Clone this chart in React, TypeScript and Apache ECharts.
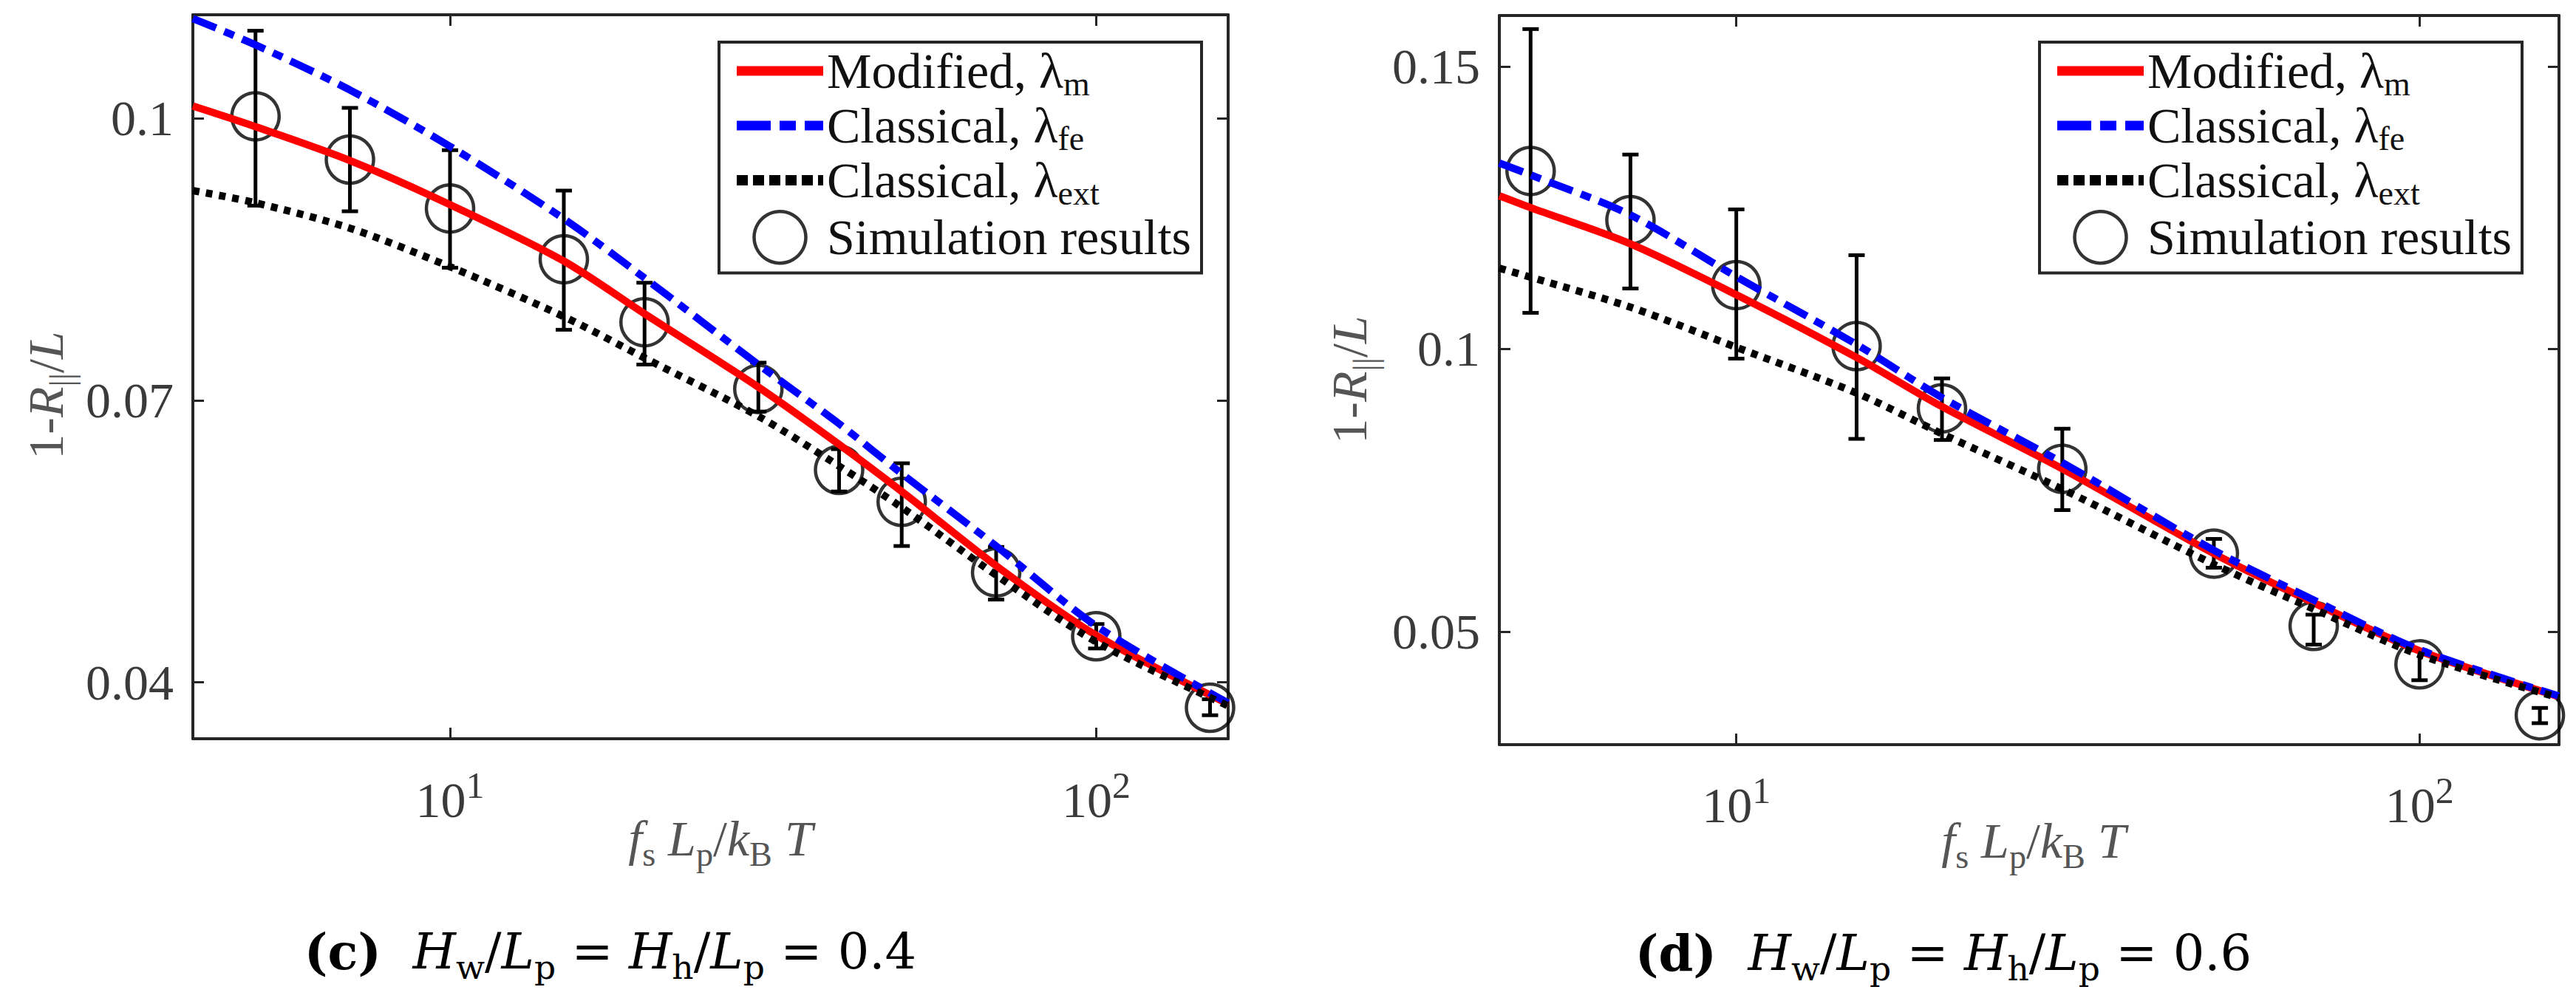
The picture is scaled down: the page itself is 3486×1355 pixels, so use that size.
import React, { useEffect, useRef } from "react";
import * as echarts from "echarts";

// ---------------- data ----------------
const xTickExponents = [1, 2];

// panel (c)
const cCurveX = [4, 5, 7, 10, 15, 20, 30, 40, 50, 70, 100, 160];
const cModified = [0.1013, 0.0991, 0.0955, 0.0908, 0.0848, 0.0792, 0.0714, 0.0653, 0.0603, 0.0524, 0.045, 0.0377];
const cFe = [0.1106, 0.1078, 0.103, 0.097, 0.0893, 0.083, 0.0738, 0.0675, 0.0622, 0.0545, 0.046, 0.0378];
const cExt = [0.0923, 0.091, 0.0883, 0.0842, 0.0789, 0.0745, 0.0683, 0.063, 0.0586, 0.0514, 0.0443, 0.0375];
const cSimX = [5, 7, 10, 15, 20, 30, 40, 50, 70, 100, 150];
const cSimY = [0.1002, 0.0956, 0.0904, 0.085, 0.0783, 0.0712, 0.0626, 0.0592, 0.0517, 0.0449, 0.0373];
const cSimLow = [0.0907, 0.0901, 0.0841, 0.0775, 0.0738, 0.0688, 0.0603, 0.0545, 0.0488, 0.0436, 0.0365];
const cSimHigh = [0.1093, 0.1011, 0.0966, 0.0923, 0.0825, 0.074, 0.0648, 0.0633, 0.0544, 0.0462, 0.0382];
const cYTicks = [0.04, 0.07, 0.1];

// panel (d)
const dCurveX = [4.5, 5, 7, 10, 15, 20, 30, 50, 70, 100, 160];
const dModified = [0.1271, 0.125, 0.1186, 0.1096, 0.0985, 0.0898, 0.0788, 0.0638, 0.0551, 0.0466, 0.0385];
const dFe = [0.1329, 0.1308, 0.1237, 0.1128, 0.1008, 0.0914, 0.0799, 0.0644, 0.0556, 0.0468, 0.0386];
const dExt = [0.1143, 0.1127, 0.1074, 0.1003, 0.0922, 0.085, 0.0752, 0.0619, 0.054, 0.0459, 0.0383];
const dSimX = [5, 7, 10, 15, 20, 30, 50, 70, 100, 150];
const dSimY = [0.1315, 0.1228, 0.1113, 0.1005, 0.0895, 0.0788, 0.0638, 0.051, 0.0442, 0.0352];
const dSimLow = [0.1064, 0.1107, 0.0983, 0.0841, 0.0839, 0.0715, 0.0613, 0.0477, 0.0414, 0.0338];
const dSimHigh = [0.1566, 0.1344, 0.1247, 0.1166, 0.0948, 0.0859, 0.0664, 0.053, 0.0467, 0.0365];
const dYTicks = [0.05, 0.1, 0.15];

const seriesNames = ["Modified", "Classical fe", "Classical ext", "Simulation results"];
const legendLabels: Record<string, string> = {
  Modified: "{t|Modified, λ}{s|m}",
  "Classical fe": "{t|Classical, λ}{s|fe}",
  "Classical ext": "{t|Classical, λ}{s|ext}",
  "Simulation results": "{t|Simulation results}",
};
const captions = [
  { tag: "(c)", value: "0.4" },
  { tag: "(d)", value: "0.6" },
];

// ---------------- styles ----------------
const SERIF = "Liberation Serif";
const CAPFONT = "DejaVu Serif";
const AX = "#262626";
const TXT = "#3a3a3a";
const LBL = "#555555";
const RED = "#ff0000";
const BLUE = "#0000ff";
const BLACK = "#000000";
const LINE_W = 10;
const FE_DASH = [34, 12, 14, 12];
const EXT_DASH = [9, 9];

const pairs = (xs: number[], ys: number[]) => xs.map((x, i) => [x, ys[i]]);
const triples = (xs: number[], lo: number[], hi: number[]) => xs.map((x, i) => [x, lo[i], hi[i]]);

const tickRich = {
  b: { fontFamily: SERIF, fontSize: 68, color: TXT, lineHeight: 90 },
  s: { fontFamily: SERIF, fontSize: 50, color: TXT, lineHeight: 24, verticalAlign: "top" },
};

const xFormatter = (v: number) => {
  const l = Math.log10(v);
  const e = Math.round(l);
  if (Math.abs(l - e) > 1e-6 || xTickExponents.indexOf(e) < 0) return "";
  return `{b|10}{s|${e}}`;
};

function makeAxes(gi: number, xmin: number, xmax: number, ymin: number, ymax: number, yTicks: number[], labelMargin: number) {
  const line = { show: true, onZero: false, lineStyle: { color: AX, width: 4 } };
  const tick = { show: true, inside: true, length: 15, lineStyle: { color: AX, width: 3 } };
  const xs = [
    {
      type: "log", logBase: 10, gridIndex: gi, min: xmin, max: xmax, position: "bottom",
      axisLine: line, axisTick: tick, splitLine: { show: false }, minorTick: { show: false },
      axisLabel: { show: true, margin: labelMargin, formatter: xFormatter, rich: tickRich, showMinLabel: false, showMaxLabel: false },
    },
    {
      type: "log", logBase: 10, gridIndex: gi, min: xmin, max: xmax, position: "top",
      axisLine: line, axisTick: tick, splitLine: { show: false }, axisLabel: { show: false },
    },
  ];
  const ys = [
    {
      type: "value", gridIndex: gi, min: ymin, max: ymax, position: "left",
      axisLine: line, axisTick: { ...tick, customValues: yTicks }, splitLine: { show: false },
      axisLabel: { show: true, customValues: yTicks, margin: 26, fontFamily: SERIF, fontSize: 68, color: TXT, formatter: (v: number) => String(+v.toFixed(4)) },
    },
    {
      type: "value", gridIndex: gi, min: ymin, max: ymax, position: "right",
      axisLine: line, axisTick: { ...tick, customValues: yTicks }, splitLine: { show: false }, axisLabel: { show: false },
    },
  ];
  return { xs, ys };
}

function errorBarItem(params: any, api: any) {
  const x = api.value(0);
  const p1 = api.coord([x, api.value(1)]);
  const p2 = api.coord([x, api.value(2)]);
  const w = 11;
  const style = { stroke: BLACK, lineWidth: 5 };
  return {
    type: "group",
    children: [
      { type: "line", shape: { x1: p1[0], y1: p1[1], x2: p2[0], y2: p2[1] }, style },
      { type: "line", shape: { x1: p1[0] - w, y1: p1[1], x2: p1[0] + w, y2: p1[1] }, style },
      { type: "line", shape: { x1: p2[0] - w, y1: p2[1], x2: p2[0] + w, y2: p2[1] }, style },
    ],
  };
}

function panelSeries(axisIdx: number, curveX: number[], mod: number[], fe: number[], ext: number[], simX: number[], simY: number[], lo: number[], hi: number[]) {
  const ax = { xAxisIndex: axisIdx, yAxisIndex: axisIdx };
  const curve = { type: "line", ...ax, symbol: "none", smooth: 0.3 };
  return [
    { type: "custom", ...ax, name: "errorbars", renderItem: errorBarItem, data: triples(simX, lo, hi), encode: { x: 0, y: [1, 2] }, z: 2, silent: true },
    {
      type: "scatter", ...ax, name: seriesNames[3], data: pairs(simX, simY), symbol: "circle", symbolSize: 64, z: 3,
      itemStyle: { color: "rgba(0,0,0,0)", borderColor: BLACK, borderWidth: 4.5 },
    },
    { ...curve, name: seriesNames[0], data: pairs(curveX, mod), z: 4, lineStyle: { color: RED, width: LINE_W, type: "solid" } },
    { ...curve, name: seriesNames[1], data: pairs(curveX, fe), z: 5, lineStyle: { color: BLUE, width: LINE_W, type: FE_DASH } },
    { ...curve, name: seriesNames[2], data: pairs(curveX, ext), z: 6, lineStyle: { color: BLACK, width: LINE_W, type: EXT_DASH } },
  ];
}

const hidden = { color: "rgba(0,0,0,0)", borderColor: "rgba(0,0,0,0)", borderWidth: 0 };
const legendData = [
  { name: seriesNames[0], itemStyle: hidden, lineStyle: { color: RED, width: 13, type: "solid" } },
  { name: seriesNames[1], itemStyle: hidden, lineStyle: { color: BLUE, width: 13, type: [46, 12, 22, 12] } },
  { name: seriesNames[2], itemStyle: hidden, lineStyle: { color: BLACK, width: 14, type: [15, 7] } },
  { name: seriesNames[3], itemStyle: { color: "rgba(0,0,0,0)", borderColor: BLACK, borderWidth: 4.5 } },
];

function makeLegend(left: number, top: number) {
  return {
    show: true, left, top, orient: "vertical", itemWidth: 117, itemHeight: 70, itemGap: 0,
    padding: [5, 14, 11, 17], borderColor: AX, borderWidth: 4, backgroundColor: "#ffffff",
    selectedMode: false, symbolKeepAspect: true, data: legendData,
    formatter: (name: string) => legendLabels[name] || name,
    textStyle: {
      fontFamily: SERIF, fontSize: 68, color: "#111",
      rich: {
        t: { fontFamily: SERIF, fontSize: 68, color: "#111", lineHeight: 80 },
        s: { fontFamily: SERIF, fontSize: 46, color: "#111", lineHeight: 46, verticalAlign: "bottom" },
      },
    },
  };
}

const mathRich = (size: number, color: string, family: string) => ({
  n: { fontFamily: family, fontSize: size, fill: color, color, lineHeight: size * 1.32 },
  i: { fontFamily: family, fontSize: size, fontStyle: "italic", fill: color, color, lineHeight: size * 1.32 },
  b: { fontFamily: family, fontSize: size, fontWeight: "bold", fill: color, color, lineHeight: size * 1.32 },
  s: { fontFamily: family, fontSize: size * 0.68, fill: color, color, lineHeight: size * 0.68, verticalAlign: "bottom" },
});

const yLabelText = "{n|1-}{i|R}{s|||}{n|/}{i|L}";
const xLabelText = "{i|f}{s|s}{i| L}{s|p}{n|/}{i|k}{s|B}{i| T}";
const captionText = (c: { tag: string; value: string }) =>
  `{b|${c.tag}}{n|  }{i|H}{s|w}{n|/}{i|L}{s|p}{n| = }{i|H}{s|h}{n|/}{i|L}{s|p}{n| = ${c.value}}`;

function textEl(x: number, y: number, text: string, rich: any, rotation = 0) {
  return {
    type: "text", x, y, rotation, silent: true,
    style: { text, rich, align: "center", verticalAlign: "middle" },
  };
}

export default function App() {
  const ref = useRef<HTMLDivElement>(null);
  useEffect(() => {
    document.body.style.margin = "0";
    if (!ref.current) return;
    const chart = echarts.init(ref.current, undefined, { renderer: "svg" });
    const a = makeAxes(0, 4, 160, 0.034, 0.111, cYTicks, 38);
    const b = makeAxes(1, 4.5, 160, 0.03, 0.159, dYTicks, 37);
    const axisRich = mathRich(68, LBL, SERIF);
    const capRich = mathRich(67, "#000", CAPFONT);
    chart.setOption({
      animation: false,
      backgroundColor: "#ffffff",
      textStyle: { fontFamily: SERIF },
      grid: [
        { left: 261, top: 20, width: 1401, height: 980, containLabel: false },
        { left: 2029, top: 21, width: 1434, height: 987, containLabel: false },
      ],
      xAxis: [a.xs[0], a.xs[1], b.xs[0], b.xs[1]].map((x: any, i) => ({ ...x, gridIndex: i < 2 ? 0 : 1 })),
      yAxis: [a.ys[0], a.ys[1], b.ys[0], b.ys[1]].map((y: any, i) => ({ ...y, gridIndex: i < 2 ? 0 : 1 })),
      legend: [makeLegend(973, 57), makeLegend(2760, 57)],
      series: [
        ...panelSeries(0, cCurveX, cModified, cFe, cExt, cSimX, cSimY, cSimLow, cSimHigh),
        ...panelSeries(2, dCurveX, dModified, dFe, dExt, dSimX, dSimY, dSimLow, dSimHigh),
      ],
      graphic: [
        textEl(62, 535, yLabelText, axisRich, Math.PI / 2),
        textEl(1826, 514, yLabelText, axisRich, Math.PI / 2),
        textEl(975, 1135, xLabelText, axisRich),
        textEl(2752, 1138, xLabelText, axisRich),
        textEl(826, 1288, captionText(captions[0]), capRich),
        textEl(2630, 1290, captionText(captions[1]), capRich),
      ],
    });
    return () => chart.dispose();
  }, []);
  return <div ref={ref} style={{ width: 3486, height: 1355 }} />;
}
